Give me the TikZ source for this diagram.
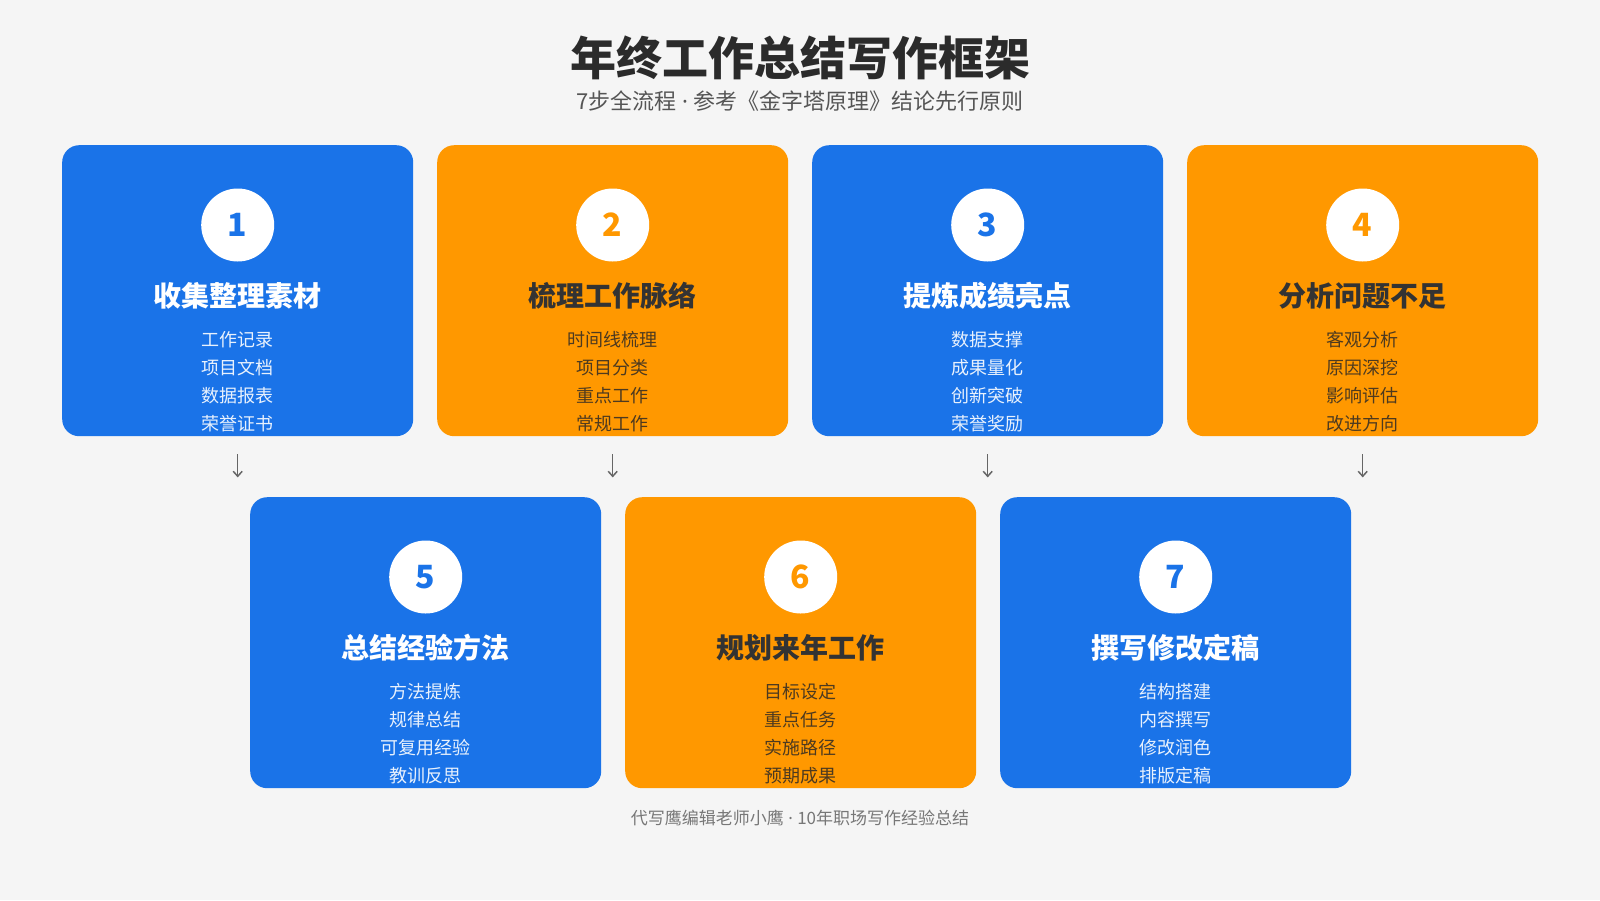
\documentclass[tikz,border=0pt]{standalone}
\usepackage{fontspec}
\setmainfont{Noto Sans CJK SC}
\newfontfamily\latinfont{Noto Sans}
\usetikzlibrary{arrows.meta}
\definecolor{bg}{HTML}{F5F5F5}
\definecolor{bcol}{HTML}{1A73E8}
\definecolor{ocol}{HTML}{FF9800}
\definecolor{btitle}{HTML}{FFFFFF}
\definecolor{otitle}{HTML}{333333}
\definecolor{bitem}{HTML}{E8F1FD}
\definecolor{oitem}{HTML}{4D3A20}
\definecolor{maintitle}{HTML}{2B2B2B}
\definecolor{subtxt}{HTML}{555555}
\definecolor{foottxt}{HTML}{777777}
\definecolor{arrowc}{HTML}{666666}
\newcommand\middot{{\latinfont\ ·\ }}
\tikzset{
  card/.style={rounded corners=17pt, minimum width=351pt, minimum height=291pt, inner sep=0pt, anchor=north west, draw=none},
  numcirc/.style={circle, fill=white, minimum size=73pt, inner sep=0pt, font=\fontsize{32}{36}\selectfont\bfseries},
  cardtitle/.style={inner sep=0pt, font=\fontsize{28}{32}\selectfont\bfseries},
  cardtext/.style={inner sep=0pt, align=center, font=\fontsize{18}{28}\selectfont},
  flowarrow/.style={draw=arrowc, line width=1.5pt, -{Straight Barb[length=5pt,width=9pt,line width=1.5pt]}},
}
\newcommand\mkcard[7]{%
  \node[card, fill=#4col] (c#1) at (#2,#3) {};
  \node[numcirc, text=#4col] (n#1) at ([yshift=-80pt]c#1.north) {#5};
  \node[cardtitle, text=#4title] (t#1) at ([yshift=-151pt]c#1.north) {#6};
  \node[cardtext, text=#4item] (i#1) at ([yshift=-236.5pt]c#1.north) {#7};
}
\begin{document}
\begin{tikzpicture}[x=1pt,y=-1pt]
\path[fill=bg,use as bounding box] (0,0) rectangle (1600,900);
\node[text=maintitle, font=\fontsize{46}{50}\selectfont\bfseries] (title) at (800,58) {年终工作总结写作框架};
\node[text=subtxt, font=\fontsize{22}{26}\selectfont] (sub) at (800,101) {7步全流程\middot 参考《金字塔原理》结论先行原则};
\mkcard{1}{62}{145}{b}{1}{收集整理素材}{工作记录\\项目文档\\数据报表\\荣誉证书}
\mkcard{2}{437}{145}{o}{2}{梳理工作脉络}{时间线梳理\\项目分类\\重点工作\\常规工作}
\mkcard{3}{812}{145}{b}{3}{提炼成绩亮点}{数据支撑\\成果量化\\创新突破\\荣誉奖励}
\mkcard{4}{1187}{145}{o}{4}{分析问题不足}{客观分析\\原因深挖\\影响评估\\改进方向}
\mkcard{5}{250}{497}{b}{5}{总结经验方法}{方法提炼\\规律总结\\可复用经验\\教训反思}
\mkcard{6}{625}{497}{o}{6}{规划来年工作}{目标设定\\重点任务\\实施路径\\预期成果}
\mkcard{7}{1000}{497}{b}{7}{撰写修改定稿}{结构搭建\\内容撰写\\修改润色\\排版定稿}
\foreach \k in {1,2,3,4}{
  \coordinate (a\k) at ([yshift=-18pt]c\k.south);
  \coordinate (b\k) at ([yshift=-41pt]c\k.south);
  \draw[flowarrow] (a\k) -- (b\k);
}
\node[text=foottxt, font=\fontsize{17}{20}\selectfont] (foot) at (800,818) {代写鹰编辑老师小鹰\middot 10年职场写作经验总结};
\end{tikzpicture}
\end{document}
